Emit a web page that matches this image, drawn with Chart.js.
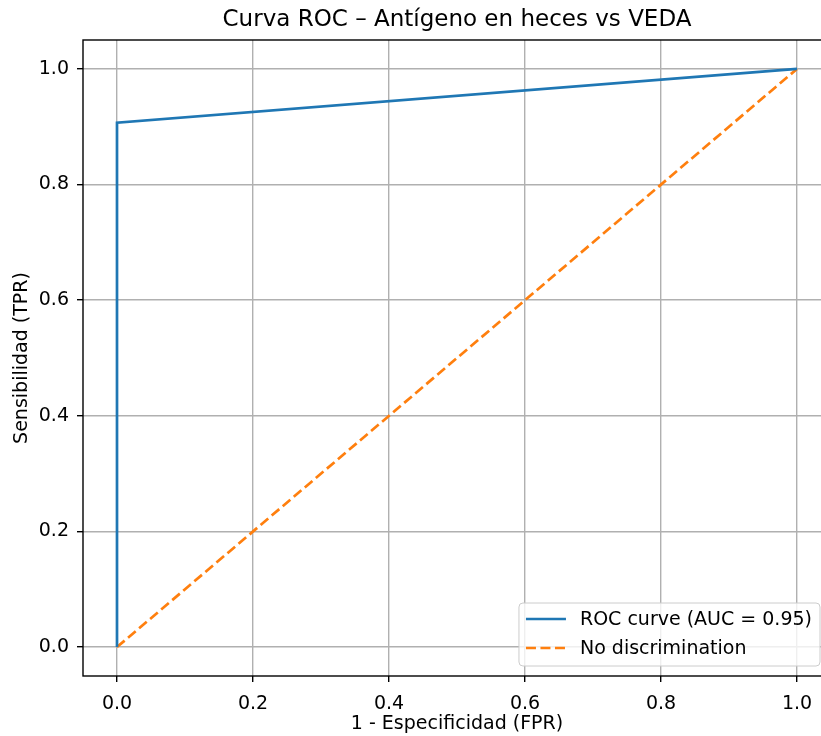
<!DOCTYPE html>
<html>
<head>
<meta charset="utf-8">
<script src="https://cdn.jsdelivr.net/npm/chart.js@4/dist/chart.umd.min.js"></script>
<style>
html, body { margin: 0; padding: 0; background: #fff; overflow: hidden; }
canvas { display: block; }
</style>
</head>
<body>
<canvas id="rocChart" width="840" height="736"></canvas>
<script>
// ROC curve points
const fpr = [0, 0, 1];
const tpr = [0, 0.907, 1];
// reference diagonal
const chanceX = [0, 1];
const chanceY = [0, 1];

const xTicks = [0, 0.2, 0.4, 0.6, 0.8, 1.0];
const yTicks = [0, 0.2, 0.4, 0.6, 0.8, 1.0];

const titleText = "Curva ROC – Antígeno en heces vs VEDA";
const xTitle = "1 - Especificidad (FPR)";
const yTitle = "Sensibilidad (TPR)";
const rocLabel = "ROC curve (AUC = 0.95)";
const chanceLabel = "No discrimination";

const font = '"DejaVu Sans", sans-serif';
const blue = "#1f77b4";
const orange = "#ff7f0e";

const toPoints = (xs, ys) => xs.map((x, i) => ({ x: x, y: ys[i] }));

// frame + legend drawn on top of the lines, like matplotlib
const framePlugin = {
    id: "frame",
    afterDatasetsDraw(chart) {
        const { ctx, chartArea: a } = chart;
        ctx.save();
        ctx.strokeStyle = "#000";
        ctx.lineWidth = 1.4;
        ctx.strokeRect(a.left, a.top, a.right - a.left, a.bottom - a.top);

        // legend box, lower right
        ctx.font = "19px " + font;
        const items = chart.data.datasets;
        const textW = Math.max(...items.map(d => ctx.measureText(d.label).width));
        const boxW = 7 + 40 + 14 + textW + 8;
        const boxH = 63;
        const bx = a.right - 11 - boxW;
        const by = a.bottom - 10 - boxH;
        ctx.beginPath();
        ctx.roundRect(bx, by, boxW, boxH, 4);
        ctx.fillStyle = "rgba(255,255,255,0.8)";
        ctx.fill();
        ctx.strokeStyle = "#cccccc";
        ctx.lineWidth = 1;
        ctx.stroke();

        items.forEach((d, i) => {
            const y = by + 16 + i * 29;
            ctx.beginPath();
            ctx.setLineDash(d.borderDash || []);
            ctx.strokeStyle = d.borderColor;
            ctx.lineWidth = d.borderWidth;
            ctx.moveTo(bx + 7, y);
            ctx.lineTo(bx + 47, y);
            ctx.stroke();
            ctx.setLineDash([]);
            ctx.fillStyle = "#000";
            ctx.textBaseline = "middle";
            ctx.textAlign = "left";
            ctx.fillText(d.label, bx + 61, y + 1);
        });
        ctx.restore();
    }
};

const titlePlugin = {
    id: "axTitle",
    afterDraw(chart) {
        const { ctx, chartArea: a } = chart;
        ctx.save();
        ctx.font = "23px " + font;
        ctx.fillStyle = "#000";
        ctx.textAlign = "center";
        ctx.textBaseline = "middle";
        ctx.fillText(titleText, (a.left + a.right) / 2, 20);
        ctx.restore();
    }
};

const ctx = document.getElementById("rocChart").getContext("2d");
const chart = new Chart(ctx, {
    type: "line",
    data: {
        datasets: [{
            label: rocLabel,
            data: toPoints(fpr, tpr),
            borderColor: blue,
            borderWidth: 2.7,
            pointRadius: 0,
            tension: 0,
            fill: false
        }, {
            label: chanceLabel,
            data: toPoints(chanceX, chanceY),
            borderColor: orange,
            borderWidth: 2.7,
            borderDash: [10, 4.5],
            pointRadius: 0,
            tension: 0,
            fill: false
        }]
    },
    options: {
        responsive: false,
        animation: false,
        layout: { padding: { top: 40, right: 9, left: 0, bottom: 0 } },
        plugins: {
            legend: { display: false },
            title: { display: false },
            tooltip: { enabled: false }
        },
        scales: {
            x: {
                type: "linear",
                min: -0.05,
                max: 1.05,
                afterBuildTicks: (scale) => { scale.ticks = xTicks.map(v => ({ value: v })); },
                afterFit: (scale) => { scale.height = 60; },
                grid: { color: "#b0b0b0", lineWidth: 1.4, tickColor: "#000", tickLength: 6, tickWidth: 1.4 },
                border: { display: false },
                ticks: {
                    color: "#000",
                    font: { family: font, size: 19 },
                    padding: 11,
                    maxRotation: 0,
                    callback: (v) => v.toFixed(1)
                },
                title: {
                    display: true,
                    text: xTitle,
                    color: "#000",
                    font: { family: font, size: 19 },
                    padding: { bottom: 1 }
                }
            },
            y: {
                type: "linear",
                min: -0.05,
                max: 1.05,
                afterBuildTicks: (scale) => { scale.ticks = yTicks.map(v => ({ value: v })); },
                afterFit: (scale) => { scale.width = 83; },
                grid: { color: "#b0b0b0", lineWidth: 1.4, tickColor: "#000", tickLength: 6, tickWidth: 1.4 },
                border: { display: false },
                ticks: {
                    color: "#000",
                    font: { family: font, size: 19 },
                    padding: 8,
                    callback: (v) => v.toFixed(1)
                },
                title: {
                    display: true,
                    text: yTitle,
                    color: "#000",
                    font: { family: font, size: 19 },
                    padding: { top: 11 }
                }
            }
        }
    },
    plugins: [framePlugin, titlePlugin]
});
</script>
</body>
</html>
